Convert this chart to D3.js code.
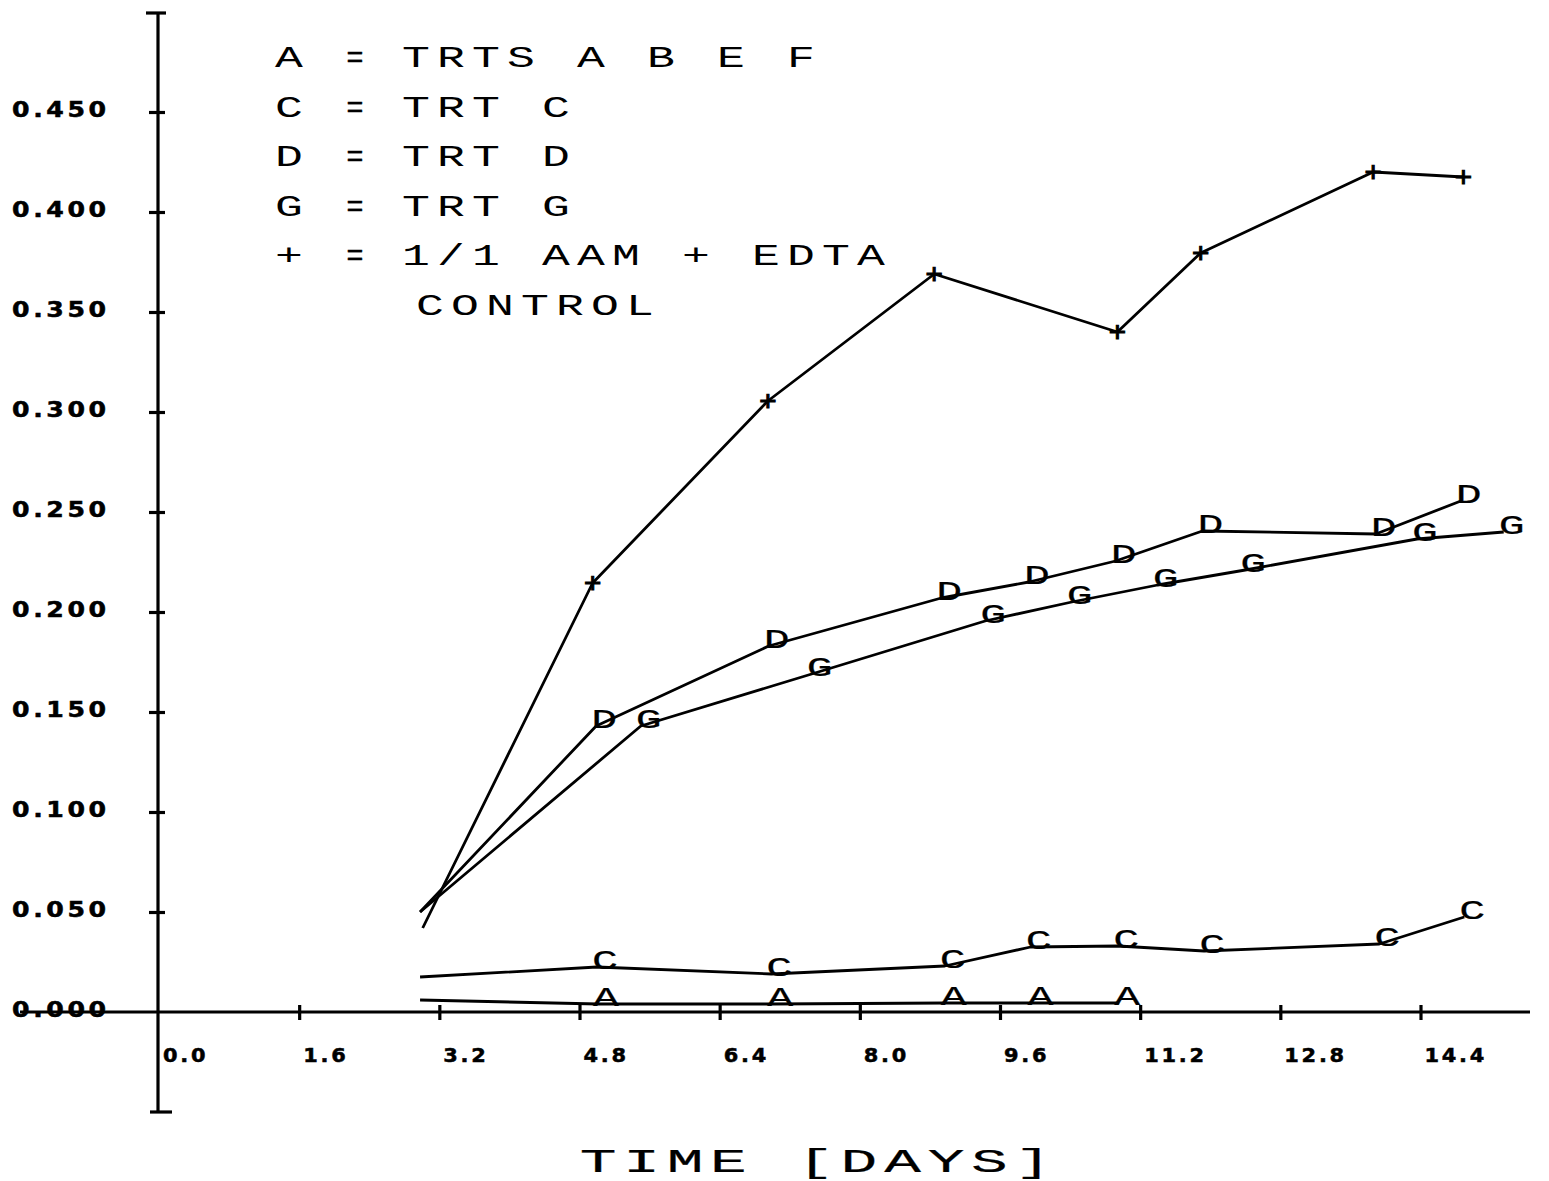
<!DOCTYPE html>
<html><head><meta charset="utf-8">
<script src="https://cdn.jsdelivr.net/npm/d3@7"></script>
<style>body{margin:0;background:#fff}svg{display:block;background:#fff}</style>
</head><body>
<svg id="c" width="1549" height="1181"></svg>
<script>
// ---- data ----
const xTicks = [1.6, 3.2, 4.8, 6.4, 8.0, 9.6, 11.2, 12.8, 14.4];
const xTickLabels = ["0.0", "1.6", "3.2", "4.8", "6.4", "8.0", "9.6", "11.2", "12.8", "14.4"];
const xLabelValues = [0, 1.6, 3.2, 4.8, 6.4, 8.0, 9.6, 11.2, 12.8, 14.4];
const yTicks = [0.05, 0.10, 0.15, 0.20, 0.25, 0.30, 0.35, 0.40, 0.45];
const yLabelValues = [0, 0.05, 0.10, 0.15, 0.20, 0.25, 0.30, 0.35, 0.40, 0.45];
const yTickLabels = ["0.000", "0.050", "0.100", "0.150", "0.200", "0.250", "0.300", "0.350", "0.400", "0.450"];

const plusDays   = [3.01, 4.95, 6.95, 8.85, 10.94, 11.89, 13.86, 14.89];
const plusValues = [0.042, 0.2145, 0.3055, 0.369, 0.340, 0.3795, 0.420, 0.4175];

const dDays   = [2.98, 4.99, 6.96, 8.93, 9.93, 10.92, 11.91, 13.89, 14.86];
const dValues = [0.050, 0.143, 0.183, 0.207, 0.215, 0.2255, 0.2405, 0.239, 0.2555];

const gDays   = [2.98, 5.50, 7.45, 9.43, 10.42, 11.40, 12.40, 14.36, 15.35];
const gValues = [0.050, 0.143, 0.169, 0.1955, 0.205, 0.2135, 0.221, 0.2365, 0.240];

const cDays   = [2.98, 5.00, 6.99, 8.97, 9.95, 10.95, 11.93, 13.93, 14.90];
const cValues = [0.0175, 0.0225, 0.019, 0.023, 0.0325, 0.033, 0.0305, 0.034, 0.0475];

const aDays   = [2.98, 5.01, 7.00, 8.98, 9.97, 10.96];
const aValues = [0.006, 0.004, 0.004, 0.0045, 0.0045, 0.0045];

const legendSymbols = ["A", "C", "D", "G", "+", ""];
const legendLabels = ["TRTS A B E F", "TRT C", "TRT D", "TRT G", "1/1 AAM + EDTA", "CONTROL"];
const xTitle = "TIME [DAYS]";

// ---- scales ----
const svg = d3.select("#c");
const x = d3.scaleLinear().domain([0, 15.65]).range([159, 1530]);
const y = d3.scaleLinear().domain([-0.05, 0.5]).range([1112, 12]);

const MONO = "'Liberation Mono', 'DejaVu Sans Mono', monospace";
// plotter-like text: every character centred in a fixed-pitch cell.
// cx = centre of first character cell, py = baseline
function ptext(g, cx, py, str, o) {
  const sx = o.sx || 1;
  const xs = Array.from(str).map((ch, i) => ((cx + i * o.pitch) / sx).toFixed(2)).join(" ");
  return g.append("text")
    .attr("transform", `translate(0,${py}) scale(${sx},1)`)
    .attr("x", xs).attr("y", 0)
    .attr("text-anchor", "middle")
    .attr("font-family", o.family || MONO)
    .attr("font-size", o.size)
    .attr("font-weight", o.weight || "normal")
    .attr("fill", "#000")
    .attr("stroke", "#000")
    .attr("stroke-width", o.stroke == null ? 0 : o.stroke)
    .text(str);
}
// bold proportional tick-label text
function btext(g, px, py, str, o) {
  return g.append("text")
    .attr("transform", `translate(${px},${py}) scale(${o.sx},1)`)
    .attr("font-family", "'DejaVu Sans', sans-serif")
    .attr("font-weight", "bold")
    .attr("font-size", o.size)
    .attr("letter-spacing", o.ls)
    .attr("fill", "#000")
    .attr("stroke", "#000").attr("stroke-width", 0.5)
    .text(str);
}

const ink = "#000";

// ---- axes ----
const axes = svg.append("g");
axes.append("line").attr("x1", x(0) - 1).attr("x2", x(0) - 1)
  .attr("y1", y(0.4995)).attr("y2", y(-0.05))
  .attr("stroke", ink).attr("stroke-width", 3.2);
axes.append("line").attr("x1", x(0) - 13).attr("x2", x(0) + 7)
  .attr("y1", y(0.4995)).attr("y2", y(0.4995)).attr("stroke", ink).attr("stroke-width", 3.2);
axes.append("line").attr("x1", x(0) - 9).attr("x2", x(0) + 13)
  .attr("y1", y(-0.05)).attr("y2", y(-0.05)).attr("stroke", ink).attr("stroke-width", 3.2);

const yAx = axes.append("g").attr("transform", `translate(${x(0) - 1},0)`)
  .call(d3.axisLeft(y).tickValues(yTicks).tickSize(9).tickFormat(""));
yAx.select(".domain").remove();
yAx.selectAll(".tick line").attr("x1", 7).attr("stroke", ink).attr("stroke-width", 3.2);

const xAx = axes.append("g").attr("transform", `translate(0,${y(0)})`)
  .call(d3.axisBottom(x).tickValues(xTicks).tickSize(8).tickFormat(""));
xAx.select(".domain").remove();
xAx.selectAll(".tick line").attr("y1", -7).attr("stroke", ink).attr("stroke-width", 3.2);
axes.append("line").attr("x1", 20).attr("x2", x(15.65))
  .attr("y1", y(0)).attr("y2", y(0)).attr("stroke", ink).attr("stroke-width", 3.2);

// tick labels
const labels = svg.append("g");
yLabelValues.forEach((v, i) => {
  btext(labels, 12, y(v) + 5, yTickLabels[i], {size: 21, sx: 1.2, ls: 3});
});
xLabelValues.forEach((v, i) => {
  btext(labels, x(v) + 4, y(0) + 50, xTickLabels[i], {size: 19, sx: 1.1, ls: 2.5});
});

// x title
ptext(svg, 598, 1172, xTitle, {size: 34, sx: 1.8, pitch: 43.5, stroke: 0.2});

// ---- legend ----
const leg = svg.append("g");
const rowY = [67, 117, 166, 216, 265, 315];
legendSymbols.forEach((s, i) => {
  const o = {size: 29, sx: 1.6, pitch: 35, stroke: 0};
  if (s) {
    ptext(leg, 289, rowY[i], s, o);
    ptext(leg, 355, rowY[i], "=", {size: 29, sx: 1.0, pitch: 35, stroke: 0.3});
    ptext(leg, 416, rowY[i], legendLabels[i], o);
  } else {
    ptext(leg, 430, rowY[i], legendLabels[i], o);
  }
});

// ---- series ----
const line = d3.line().x(d => x(d[0])).y(d => y(d[1]));
const series = [
  {sym: "+", days: plusDays, vals: plusValues},
  {sym: "D", days: dDays, vals: dValues},
  {sym: "G", days: gDays, vals: gValues},
  {sym: "C", days: cDays, vals: cValues},
  {sym: "A", days: aDays, vals: aValues}
];
const plot = svg.append("g");
series.forEach(s => {
  const pts = s.days.map((d, i) => [d, s.vals[i]]);
  plot.append("path").attr("d", line(pts)).attr("fill", "none")
    .attr("stroke", ink).attr("stroke-width", 2.8).attr("stroke-linejoin", "round");
  pts.slice(1).forEach(p => {
    if (s.sym === "+") {
      ptext(plot, x(p[0]), y(p[1]) + 9, "+", {size: 27, sx: 1.1, pitch: 20, stroke: 1.0});
    } else {
      ptext(plot, x(p[0]) + 8, y(p[1]) + 2, s.sym, {size: 27, sx: 1.6, pitch: 24, stroke: 0.2});
    }
  });
});
</script>
</body></html>
